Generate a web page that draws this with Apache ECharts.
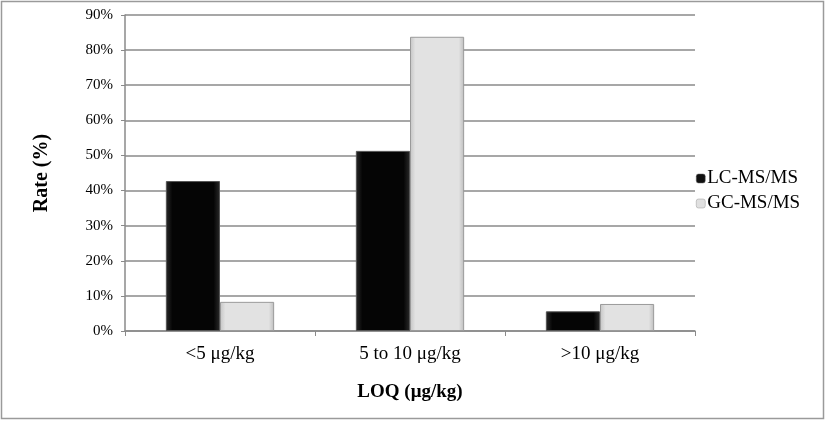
<!DOCTYPE html>
<html><head><meta charset="utf-8">
<script src="https://cdn.jsdelivr.net/npm/echarts@6/dist/echarts.min.js"></script>
<style>html,body{margin:0;padding:0;background:#fff}#c{width:827px;height:422px}</style>
</head><body><div id="c"></div>
<script>
const categories = ['<5 μg/kg', '5 to 10 μg/kg', '>10 μg/kg'];
const lcValues = [42.7, 51.3, 5.6];
const gcValues = [8.3, 83.8, 7.7];
const yTicks = [0, 10, 20, 30, 40, 50, 60, 70, 80, 90];

const font = 'Liberation Serif';
const chart = echarts.init(document.getElementById('c'));
const darkFill = {type:'linear',x:0,y:0,x2:1,y2:0,colorStops:[{offset:0,color:'#2a2a2a'},{offset:0.12,color:'#050505'},{offset:0.88,color:'#050505'},{offset:1,color:'#2a2a2a'}]};
const lightFill = {type:'linear',x:0,y:0,x2:1,y2:0,colorStops:[{offset:0,color:'#c4c4c4'},{offset:0.1,color:'#e2e2e2'},{offset:0.9,color:'#e2e2e2'},{offset:1,color:'#bdbdbd'}]};
chart.setOption({
  animation:false,
  textStyle:{fontFamily:font},
  graphic:[{type:'rect',shape:{x:1.5,y:1.5,width:822,height:417},style:{fill:'none',stroke:'#9a9a9a',lineWidth:1.5}}],
  grid:{left:125,right:132,top:15,bottom:91,containLabel:false},
  legend:{orient:'vertical',left:691,top:164,itemWidth:9,itemHeight:9,itemGap:6,
    textStyle:{fontFamily:font,fontSize:19,color:'#000',padding:[0,0,0,-3]},
    data:[{name:'LC-MS/MS',itemStyle:{color:'#111',borderColor:'#666',borderWidth:0.5}},{name:'GC-MS/MS',itemStyle:{color:'#e0e0e0',borderColor:'#999',borderWidth:0.5}}]},
  xAxis:{type:'category',data:categories,
    name:'LOQ (μg/kg)',nameLocation:'middle',nameGap:52,
    nameTextStyle:{fontFamily:font,fontSize:19,fontWeight:'bold',color:'#000'},
    axisLine:{lineStyle:{color:'#8a8a8a',width:1.5}},
    axisTick:{show:true,length:5,lineStyle:{color:'#8a8a8a'}},
    axisLabel:{fontFamily:font,fontSize:19,color:'#000',margin:14}},
  yAxis:{type:'value',min:0,max:90,interval:10,
    name:'Rate (%)',nameLocation:'middle',nameGap:73,nameRotate:90,
    nameTextStyle:{fontFamily:font,fontSize:20,fontWeight:'bold',color:'#000'},
    axisLine:{show:true,lineStyle:{color:'#8a8a8a',width:1.5}},
    axisTick:{show:true,length:4,lineStyle:{color:'#8a8a8a'}},
    splitLine:{lineStyle:{color:'#8a8a8a',width:1.5}},
    axisLabel:{fontFamily:font,fontSize:15,color:'#000',margin:12,
      formatter:v=>yTicks.includes(v)?v+'%':''}},
  series:[
    {name:'LC-MS/MS',type:'bar',data:lcValues,barGap:'0%',barCategoryGap:'43%',
      itemStyle:{color:darkFill,borderColor:'#555',borderWidth:1}},
    {name:'GC-MS/MS',type:'bar',data:gcValues,
      itemStyle:{color:lightFill,borderColor:'#9a9a9a',borderWidth:1}}
  ]
});
</script></body></html>
